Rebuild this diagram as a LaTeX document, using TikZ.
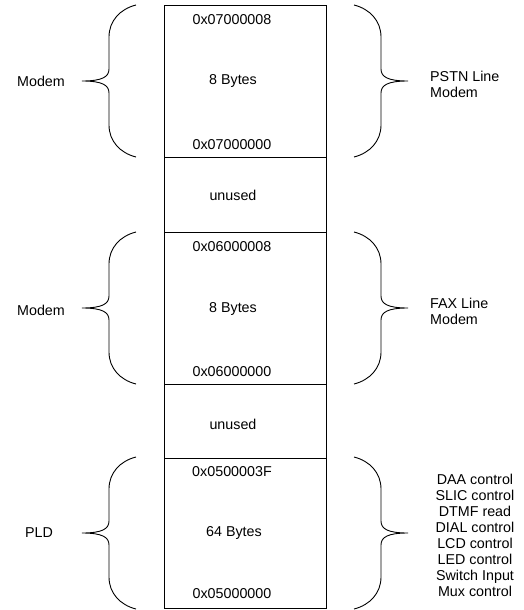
\documentclass[tikz,border=0pt]{standalone}
\usepackage{fontspec}
\setmainfont{Liberation Sans}
\begin{document}
\begin{tikzpicture}[x=1pt,y=-1pt,
  every node/.style={font=\fontsize{14.3}{16}\selectfont, inner sep=0pt},
  cell/.style={draw, line width=0.9pt, minimum width=162pt, anchor=north west, inner sep=0pt},
  lbl/.style={align=left, anchor=west},
  brl/.pic={\draw[line width=0.9pt] (54,-76) .. controls (38,-72) and (27,-60) .. (27,-44) -- (27,-12) .. controls (27,-4) and (20,0) .. (0,0) .. controls (20,0) and (27,4) .. (27,12) -- (27,44) .. controls (27,60) and (38,72) .. (54,76);},
  brr/.pic={\draw[line width=0.9pt] (-54,-76) .. controls (-38,-72) and (-27,-60) .. (-27,-44) -- (-27,-12) .. controls (-27,-4) and (-20,0) .. (0,0) .. controls (-20,0) and (-27,4) .. (-27,12) -- (-27,44) .. controls (-27,60) and (-38,72) .. (-54,76);}
]
\useasboundingbox (0,0) rectangle (523,610);
% memory cells
\node[cell, minimum height=152pt] (s1) at (164,5) {};
\node[cell, minimum height=75pt] (u1) at (164,157) {};
\node[cell, minimum height=152pt] (s2) at (164,232) {};
\node[cell, minimum height=74pt] (u2) at (164,384) {};
\node[cell, minimum height=150pt] (s3) at (164,458) {};
% cell texts
\node (a1t) at (232,20) {0x07000008};
\node (a1m) at (233,81) {8 Bytes};
\node (a1b) at (232,145) {0x07000000};
\node (u1t) at (233,195) {unused};
\node (a2t) at (232,247) {0x06000008};
\node (a2m) at (233,309) {8 Bytes};
\node (a2b) at (232,372) {0x06000000};
\node (u2t) at (233,424) {unused};
\node (a3t) at (232,472) {0x0500003F};
\node (a3m) at (234,533) {64 Bytes};
\node (a3b) at (232,594) {0x05000000};
% braces
\pic at (82,81) {brl};
\pic at (408,81) {brr};
\pic at (82,308) {brl};
\pic at (408,308) {brr};
\pic at (82,533) {brl};
\pic at (408,533) {brr};
% side labels
\node (l1) at (41,81) {Modem};
\node (l2) at (41,310) {Modem};
\node (l3) at (39,533) {PLD};
\node[lbl] (r1) at (430,84) {PSTN Line\\Modem};
\node[lbl] (r2) at (430,311) {FAX Line\\Modem};
\node[align=center] (r3) at (475,535) {DAA control\\SLIC control\\DTMF read\\DIAL control\\LCD control\\LED control\\Switch Input\\Mux control};
\end{tikzpicture}
\end{document}
